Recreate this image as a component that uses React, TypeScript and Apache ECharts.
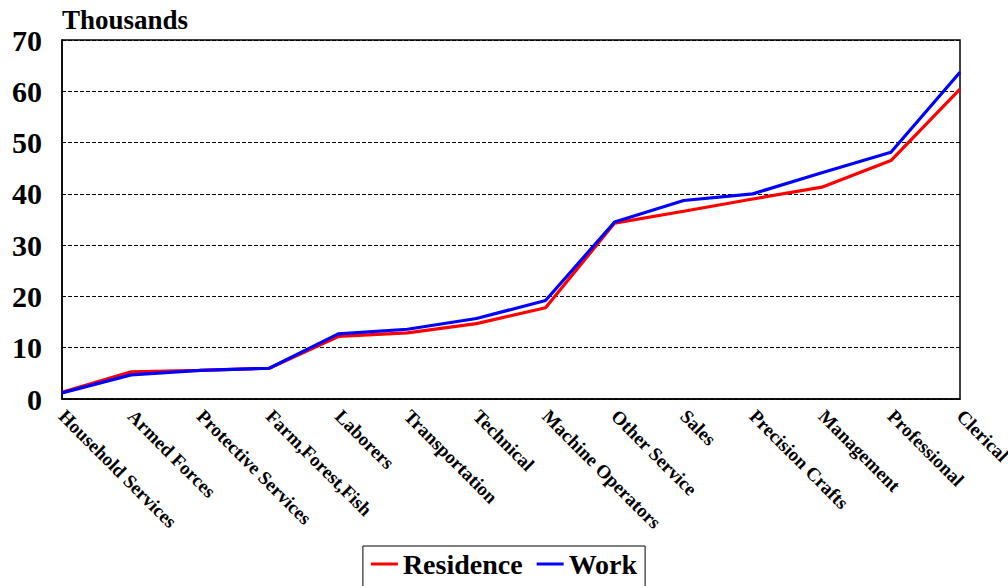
import React, { useEffect, useRef } from 'react'
import * as echarts from 'echarts'

const categories = [
  'Household Services', 'Armed Forces', 'Protective Services', 'Farm,Forest,Fish',
  'Laborers', 'Transportation', 'Technical', 'Machine Operators', 'Other Service',
  'Sales', 'Precision Crafts', 'Management', 'Professional', 'Clerical',
]
const residence = [1.3, 5.3, 5.6, 6.0, 12.2, 12.9, 14.7, 17.8, 34.3, 36.6, 39.0, 41.3, 46.5, 60.4]
const work = [1.2, 4.7, 5.6, 6.0, 12.7, 13.6, 15.7, 19.2, 34.5, 38.7, 40.0, 44.1, 48.1, 63.7]

const FONT = '"Liberation Serif", "Times New Roman", serif'

function App() {
  const ref = useRef<HTMLDivElement>(null)
  useEffect(() => {
    const chart = echarts.init(ref.current as HTMLDivElement, undefined, { renderer: 'svg' })
    chart.setOption({
      animation: false,
      title: {
        text: 'Thousands',
        left: 57,
        top: 1,
        textStyle: { fontFamily: FONT, fontWeight: 'bold', fontSize: 27, color: '#000' },
      },
      grid: {
        left: 62, right: 48, top: 40, bottom: 187,
        outerBoundsMode: 'none',
        containLabel: false,
        show: true, borderColor: '#000', borderWidth: 1.5,
      },
      legend: {
        left: 'center',
        top: 546,
        borderColor: '#000',
        borderWidth: 1,
        padding: [4, 8, 12, 8],
        icon: 'rect',
        itemWidth: 27,
        itemHeight: 3,
        itemGap: 14,
        textStyle: { fontFamily: FONT, fontWeight: 'bold', fontSize: 28, color: '#000' },
        data: ['Residence', 'Work'],
      },
      xAxis: {
        type: 'category',
        data: categories,
        boundaryGap: false,
        axisLine: { lineStyle: { color: '#000', width: 1.5 } },
        axisTick: { show: false },
        axisLabel: {
          interval: 0, rotate: -45, margin: 14,
          fontFamily: FONT, fontWeight: 'bold', fontSize: 19, color: '#000',
        },
      },
      yAxis: {
        type: 'value',
        min: 0, max: 70, interval: 10,
        axisLine: { show: true, lineStyle: { color: '#000', width: 1.5 } },
        axisTick: { show: false },
        splitLine: { lineStyle: { color: '#000', type: 'dashed', width: 1 } },
        axisLabel: {
          margin: 20,
          fontFamily: FONT, fontWeight: 'bold', fontSize: 30, color: '#000',
        },
      },
      series: [
        {
          name: 'Residence', type: 'line', data: residence, symbol: 'none',
          lineStyle: { color: '#ff0000', width: 3.2 }, itemStyle: { color: '#ff0000' },
        },
        {
          name: 'Work', type: 'line', data: work, symbol: 'none',
          lineStyle: { color: '#0000ff', width: 3.2 }, itemStyle: { color: '#0000ff' },
        },
      ],
    })
    return () => chart.dispose()
  }, [])
  return (
    <div
      ref={ref}
      style={{ position: 'fixed', left: 0, top: 0, width: 1008, height: 586, background: '#fff' }}
    />
  )
}

export default App
